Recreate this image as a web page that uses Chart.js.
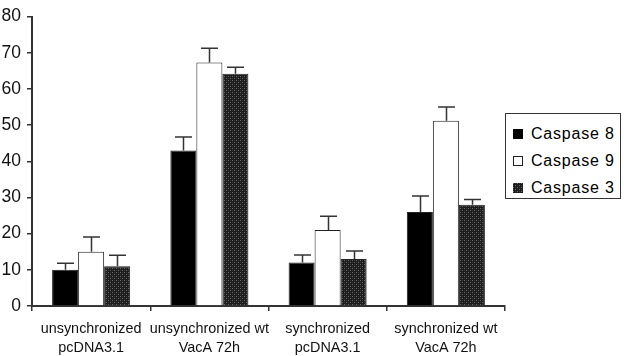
<!DOCTYPE html>
<html>
<head>
<meta charset="utf-8">
<script src="https://cdn.jsdelivr.net/npm/chart.js@4/dist/chart.umd.min.js"></script>
<style>
  html, body { margin: 0; padding: 0; background: #fff; }
  #wrap { position: relative; width: 624px; height: 356px; overflow: hidden; }
  #legend { position: absolute; left: 505px; top: 113px; width: 116px; height: 86px; border: 1px solid #333; box-sizing: border-box; background: #fff;
    font-family: "Liberation Sans", Arial, sans-serif; font-size: 16px; letter-spacing: 0.8px; color: #000; }
  .item { position: absolute; left: 0; height: 20px; line-height: 20px; white-space: nowrap; }
  .sw { position: absolute; left: 7px; top: 5px; width: 10px; height: 10px; box-sizing: border-box; }
  .lbl { position: absolute; left: 25px; top: 0; }
</style>
</head>
<body>
<div id="wrap">
  <canvas id="c" width="624" height="356"></canvas>
  <div id="legend"></div>
</div>
<script>
const categories = [
  ['unsynchronized', 'pcDNA3.1'],
  ['unsynchronized wt', 'VacA 72h'],
  ['synchronized', 'pcDNA3.1'],
  ['synchronized wt', 'VacA 72h']
];
const seriesNames = ['Caspase 8', 'Caspase 9', 'Caspase 3'];
const caspase8 = [10, 43, 12, 26];
const caspase8Err = [1.8, 3.7, 2.1, 4.4];
const caspase9 = [15, 67.3, 21, 51.2];
const caspase9Err = [4.1, 3.9, 3.8, 3.8];
const caspase3 = [11, 64.2, 13, 28];
const caspase3Err = [3, 1.8, 2.2, 1.4];
const yTicks = [0, 10, 20, 30, 40, 50, 60, 70, 80];

// dotted dark pattern
const pc = document.createElement('canvas');
pc.width = 4; pc.height = 4;
const pctx = pc.getContext('2d');
pctx.fillStyle = '#1c1c1c';
pctx.fillRect(0, 0, 4, 4);
pctx.fillStyle = '#6a6a6a';
pctx.fillRect(0, 0, 1, 1);
pctx.fillRect(2, 2, 1, 1);
pctx.fillStyle = '#3a3a3a';
pctx.fillRect(2, 0, 1, 1);
pctx.fillRect(0, 2, 1, 1);
const ctx = document.getElementById('c').getContext('2d');
const pattern = ctx.createPattern(pc, 'repeat');

const fills = ['#000000', '#ffffff', pattern];
const errs = [caspase8Err, caspase9Err, caspase3Err];

const errorBars = {
  id: 'errorBars',
  afterDatasetsDraw(chart) {
    const c = chart.ctx;
    const ys = chart.scales.y;
    c.save();
    c.strokeStyle = '#333';
    c.lineWidth = 1.5;
    chart.data.datasets.forEach((ds, i) => {
      const meta = chart.getDatasetMeta(i);
      meta.data.forEach((el, j) => {
        const top = ys.getPixelForValue(ds.data[j] + errs[i][j]);
        const x = Math.round(el.x) + 0.5;
        c.beginPath();
        c.moveTo(x, el.y);
        c.lineTo(x, top);
        c.moveTo(x - 8.5, top);
        c.lineTo(x + 8.5, top);
        c.stroke();
      });
    });
    c.restore();
  }
};

new Chart(ctx, {
  type: 'bar',
  data: {
    labels: categories,
    datasets: [
      { label: seriesNames[0], data: caspase8, backgroundColor: fills[0], borderColor: '#222', borderWidth: 1 },
      { label: seriesNames[1], data: caspase9, backgroundColor: fills[1], borderColor: '#222', borderWidth: 1 },
      { label: seriesNames[2], data: caspase3, backgroundColor: fills[2], borderColor: '#222', borderWidth: 1 }
    ]
  },
  options: {
    responsive: false,
    devicePixelRatio: 1,
    animation: false,
    layout: { padding: { top: 12, right: 119, left: 0, bottom: 0 } },
    plugins: { legend: { display: false }, tooltip: { enabled: false } },
    datasets: { bar: { categoryPercentage: 0.66, barPercentage: 1.0 } },
    scales: {
      x: {
        grid: { drawOnChartArea: false, drawTicks: true, tickLength: 5, color: '#333', lineWidth: 1.5 },
        border: { display: true, color: '#333', width: 2 },
        ticks: { color: '#111', font: { family: 'Liberation Sans', size: 14.4, lineHeight: 1.3 }, padding: 9, maxRotation: 0, autoSkip: false },
        afterFit(s) { s.height = 50; }
      },
      y: {
        min: 0, max: 80,
        afterBuildTicks(s) { s.ticks = yTicks.map(v => ({ value: v })); },
        grid: { drawOnChartArea: false, drawTicks: true, tickLength: 5, color: '#333', lineWidth: 1.5 },
        border: { display: true, color: '#333', width: 2 },
        ticks: { color: '#111', font: { family: 'Liberation Sans', size: 17.5 }, padding: 6 },
        afterFit(s) { s.width = 32; }
      }
    }
  },
  plugins: [errorBars]
});

// HTML legend
const legend = document.getElementById('legend');
const patURL = pc.toDataURL();
const rowTops = [10, 37, 64];
seriesNames.forEach((name, i) => {
  const it = document.createElement('div');
  it.className = 'item';
  it.style.top = rowTops[i] + 'px';
  const sw = document.createElement('div');
  sw.className = 'sw';
  if (i === 0) { sw.style.background = '#000'; }
  else if (i === 1) { sw.style.background = '#fff'; sw.style.border = '1px solid #222'; }
  else { sw.style.backgroundImage = 'url(' + patURL + ')'; }
  const lb = document.createElement('span');
  lb.className = 'lbl';
  lb.textContent = name;
  it.appendChild(sw);
  it.appendChild(lb);
  legend.appendChild(it);
});
</script>
</body>
</html>
